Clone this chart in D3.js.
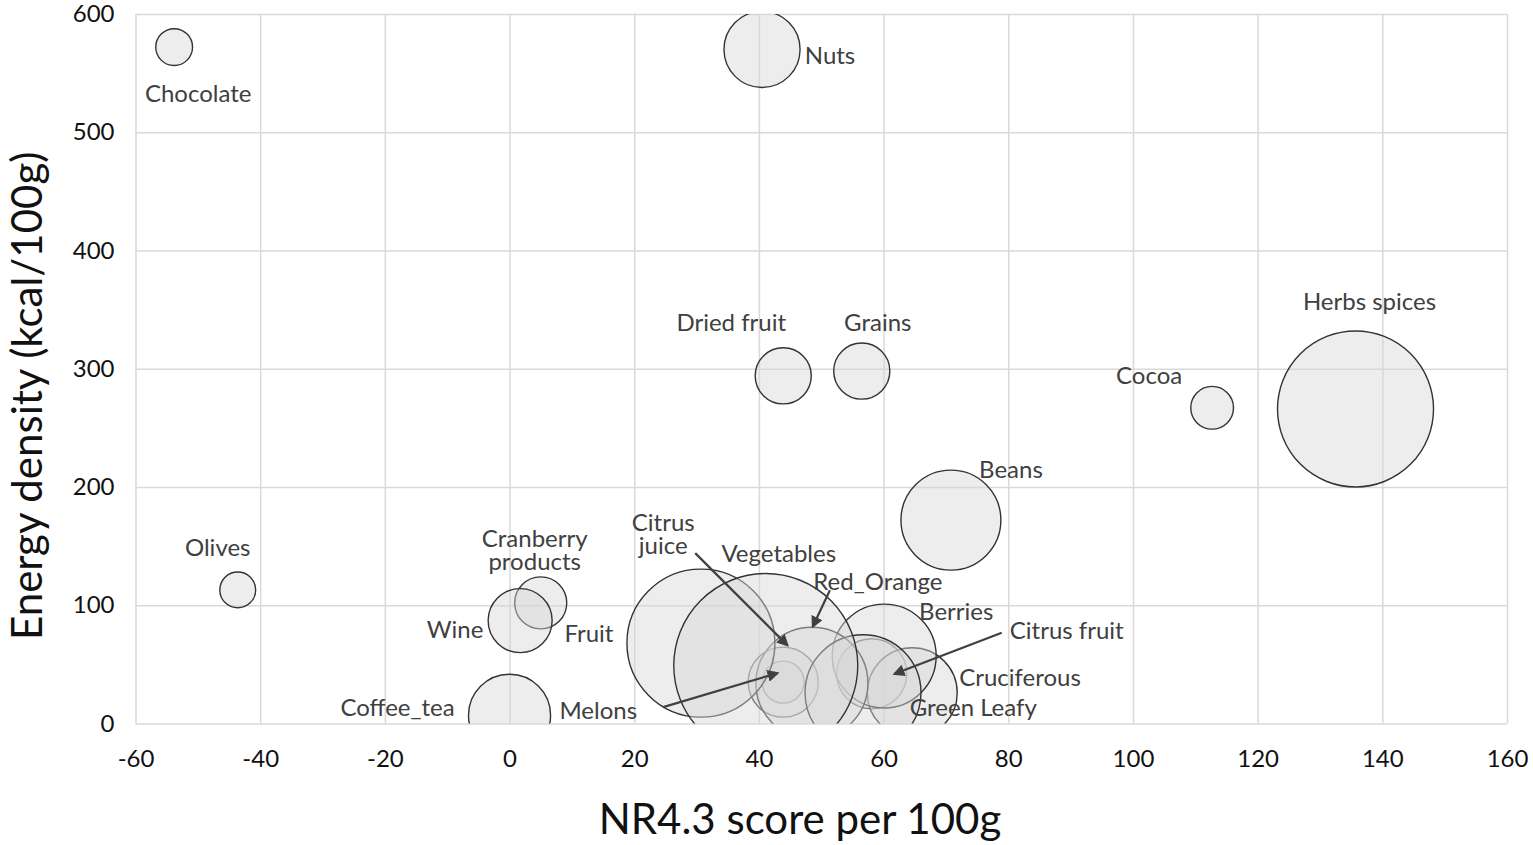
<!DOCTYPE html>
<html>
<head>
<meta charset="utf-8">
<script src="https://cdn.jsdelivr.net/npm/d3@7"></script>
<style>
  html, body { margin: 0; padding: 0; background: #fff; }
  #chart { width: 1533px; height: 845px; }
  text { font-family: Lato, "Open Sans", sans-serif; }
</style>
</head>
<body>
<div id="chart"></div>
<script>
/* Data */
var foods = ['Olives', 'Chocolate', 'Melons', 'Cocoa', 'Cranberry products', 'Dried fruit',
  'Grains', 'Wine', 'Citrus juice', 'Citrus fruit', 'Nuts', 'Coffee_tea', 'Green Leafy',
  'Beans', 'Berries', 'Red_Orange', 'Cruciferous', 'Fruit', 'Herbs spices', 'Vegetables'];
var nrScore = [-43.6, -53.8, 43.9, 112.7, 5.0, 43.9, 56.5, 1.7, 43.9, 58.1, 40.5, 0.0, 64.6,
  70.8, 60.1, 48.5, 56.7, 30.7, 135.7, 41.1];
var energy = [113, 572, 35, 267, 102, 294, 298, 87, 35, 42, 570, 7, 26,
  172, 57, 34, 26, 68, 266, 49];
var bubbleSize = [3.8, 4.0, 5.2, 5.4, 8.0, 9.3, 9.3, 12.1, 14.5, 14.5, 17.1, 19.9, 23.9,
  29.5, 31.9, 37.1, 39.7, 64.7, 71.9, 100];

var xTicks = [-60, -40, -20, 0, 20, 40, 60, 80, 100, 120, 140, 160];
var yTicks = [0, 100, 200, 300, 400, 500, 600];

/* Label placement (pixel offsets from the bubble centre) */
var labelLayout = {
  'Olives':             { dx: -20, dy: -43 },
  'Chocolate':          { dx: 24, dy: 45 },
  'Cocoa':              { dx: -63, dy: -33 },
  'Cranberry products': { dx: -6, dy: -54, lines: ['Cranberry', 'products'] },
  'Dried fruit':        { dx: -52, dy: -54 },
  'Grains':             { dx: 16, dy: -50 },
  'Wine':               { dx: -65, dy: 8 },
  'Nuts':               { dx: 68, dy: 5 },
  'Coffee_tea':         { dx: -112, dy: -9 },
  'Beans':              { dx: 60, dy: -52 },
  'Berries':            { dx: 72, dy: -46 },
  'Fruit':              { dx: -112, dy: -11 },
  'Herbs spices':       { dx: 14, dy: -108 },
  'Vegetables':         { dx: 13, dy: -113 },
  'Cruciferous':        { dx: 157, dy: -16 },
  'Green Leafy':        { dx: 61, dy: 14 },
  'Melons':             { dx: -185, dy: 27, arrow: [-120, 25, -6, -9] },
  'Citrus juice':       { dx: -120, dy: -149, lines: ['Citrus', 'juice'], arrow: [-88, -129, 4, -37] },
  'Red_Orange':         { dx: 66, dy: -103, arrow: [18, -93, 1, -57] },
  'Citrus fruit':       { dx: 195, dy: -44, arrow: [130, -41, 23, 0] }
};

var W = 1533, H = 845;
var m = { top: 14, right: 26, bottom: 121.5, left: 135.5 };
var innerW = W - m.left - m.right;
var innerH = H - m.top - m.bottom;

var x = d3.scaleLinear().domain([-60, 160]).range([0, innerW]);
var y = d3.scaleLinear().domain([0, 600]).range([innerH, 0]);
var r = d3.scaleSqrt().domain([0, d3.max(bubbleSize)]).range([0, 92]);

var svg = d3.select('#chart').append('svg')
  .attr('width', W).attr('height', H)
  .style('display', 'block');

var defs = svg.append('defs');
defs.append('clipPath').attr('id', 'plot-clip')
  .append('rect').attr('width', innerW).attr('height', innerH);
defs.append('marker')
  .attr('id', 'arrowhead')
  .attr('viewBox', '0 0 10 10')
  .attr('refX', 8).attr('refY', 5)
  .attr('markerWidth', 5.5).attr('markerHeight', 5.5)
  .attr('orient', 'auto')
  .append('path').attr('d', 'M0,0 L10,5 L0,10 z').attr('fill', '#404040');

var g = svg.append('g').attr('transform', 'translate(' + m.left + ',' + m.top + ')');

/* Grid */
g.append('g')
  .call(d3.axisBottom(x).tickValues(xTicks).tickSize(innerH).tickFormat(''))
  .call(function (s) { s.select('.domain').remove(); })
  .selectAll('line').attr('stroke', '#d9d9d9').attr('stroke-width', 1.5);
g.append('g')
  .call(d3.axisLeft(y).tickValues(yTicks).tickSize(-innerW).tickFormat(''))
  .call(function (s) { s.select('.domain').remove(); })
  .selectAll('line').attr('stroke', '#d9d9d9').attr('stroke-width', 1.5);

/* Tick labels (plain hyphen for negatives, as in the source) */
var plain = function (d) { return String(d); };
var xAxis = g.append('g')
  .attr('transform', 'translate(0,' + innerH + ')')
  .call(d3.axisBottom(x).tickValues(xTicks).tickSize(0).tickPadding(26).tickFormat(plain));
xAxis.select('.domain').remove();
xAxis.selectAll('text').attr('font-size', '24px').attr('fill', '#111')
  .style('font-family', 'Lato, sans-serif');

var yAxis = g.append('g')
  .call(d3.axisLeft(y).tickValues(yTicks).tickSize(0).tickPadding(21).tickFormat(plain));
yAxis.select('.domain').remove();
yAxis.selectAll('text').attr('font-size', '24px').attr('fill', '#111')
  .style('font-family', 'Lato, sans-serif');

/* Bubbles */
var pts = foods.map(function (f, i) {
  return { name: f, nr: nrScore[i], kcal: energy[i], size: bubbleSize[i] };
});

g.append('g').attr('clip-path', 'url(#plot-clip)')
  .selectAll('circle')
  .data(pts)
  .join('circle')
  .attr('cx', function (d) { return x(d.nr); })
  .attr('cy', function (d) { return y(d.kcal); })
  .attr('r', function (d) { return r(d.size); })
  .attr('fill', '#d6d6d6')
  .attr('fill-opacity', 0.45)
  .attr('stroke', '#333')
  .attr('stroke-width', 1.4);

/* Arrows */
var withArrow = pts.filter(function (d) { return labelLayout[d.name].arrow; });
g.selectAll('.arrow')
  .data(withArrow)
  .join('line')
  .attr('class', 'arrow')
  .attr('x1', function (d) { return x(d.nr) + labelLayout[d.name].arrow[0]; })
  .attr('y1', function (d) { return y(d.kcal) + labelLayout[d.name].arrow[1]; })
  .attr('x2', function (d) { return x(d.nr) + labelLayout[d.name].arrow[2]; })
  .attr('y2', function (d) { return y(d.kcal) + labelLayout[d.name].arrow[3]; })
  .attr('stroke', '#404040')
  .attr('stroke-width', 2.2)
  .attr('marker-end', 'url(#arrowhead)');

/* Labels: one text per line */
var lines = [];
pts.forEach(function (d) {
  var L = labelLayout[d.name];
  var parts = L.lines || [d.name];
  parts.forEach(function (s, i) {
    lines.push({
      text: s,
      px: x(d.nr) + L.dx,
      py: y(d.kcal) + L.dy + (parts.length > 1 ? (i - 0.5) * 23 : 0)
    });
  });
});

g.selectAll('.lbl')
  .data(lines)
  .join('text')
  .attr('class', 'lbl')
  .attr('x', function (d) { return d.px; })
  .attr('y', function (d) { return d.py; })
  .attr('text-anchor', 'middle')
  .attr('dominant-baseline', 'central')
  .attr('font-size', '24px')
  .attr('fill', '#404040')
  .text(function (d) { return d.text; });

/* Axis titles */
svg.append('text')
  .attr('x', 800).attr('y', 818)
  .attr('text-anchor', 'middle').attr('dominant-baseline', 'central')
  .attr('font-size', '42px').attr('fill', '#111')
  .text('NR4.3 score per 100g');

svg.append('text')
  .attr('transform', 'translate(26,' + (m.top + y(300) + 27) + ') rotate(-90)')
  .attr('text-anchor', 'middle').attr('dominant-baseline', 'central')
  .attr('font-size', '42px').attr('fill', '#111')
  .text('Energy density (kcal/100g)');
</script>
</body>
</html>
